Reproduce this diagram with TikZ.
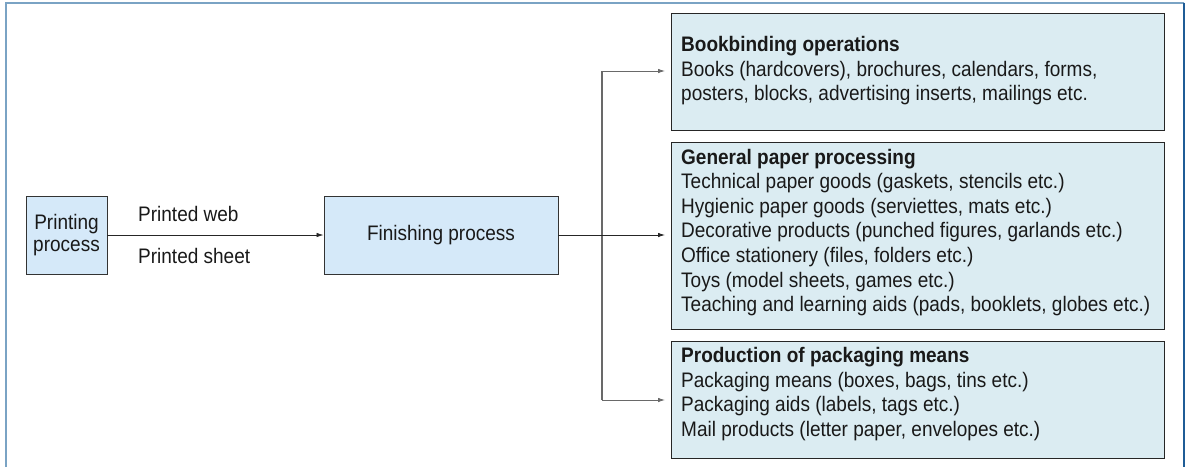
\documentclass[tikz,border=0pt]{standalone}
\usepackage{fontspec}
\setmainfont{Liberation Sans}[FakeStretch=0.905]
\usetikzlibrary{arrows.meta,calc}

\definecolor{procfill}{RGB}{213,233,249}
\definecolor{groupfill}{RGB}{219,236,242}
\definecolor{framelight}{RGB}{122,163,196}
\definecolor{framedark}{RGB}{31,92,150}
\definecolor{linkgray}{RGB}{105,105,105}
\definecolor{ink}{RGB}{25,25,25}

\tikzset{
  proc/.style={draw=black!80, fill=procfill, line width=0.9pt, inner sep=0pt,
    align=center, text=ink, font=\fontsize{21}{21.7}\selectfont},
  group/.style={draw=black!85, fill=groupfill, line width=0.9pt, inner sep=0pt,
    minimum width=493pt, anchor=north west},
  grouptext/.style={anchor=west, inner sep=0pt, align=left, text=ink,
    font=\fontsize{21}{24.6}\selectfont},
  flowlabel/.style={anchor=base west, inner sep=0pt, text=ink},
  flow/.style={line width=0.8pt, draw=black!85, -{Latex[length=7pt,width=4.5pt]}},
  branch/.style={line width=1.3pt, draw=linkgray},
}

\begin{document}
\begin{tikzpicture}[x=1pt, y=-1pt, font=\fontsize{21}{22}\selectfont]
  \useasboundingbox (0,0) rectangle (1187,467);

  % outer frame, open at the bottom
  \draw[framelight, line width=2pt] (5.5,467) -- (5.5,2.5) -- (1183.5,2.5);
  \draw[framedark, line width=2pt] (1183.5,2.5) -- (1183.5,467);

  % process chain
  \node[proc, minimum width=81pt, minimum height=78pt] (print) at (66.5,235) {Printing\\process};
  \node[proc, minimum width=234pt, minimum height=78pt] (finish) at (441,235) {Finishing process};

  \node[flowlabel] (web) at (138,221) {Printed web};
  \node[flowlabel] (sheet) at (138,263) {Printed sheet};

  % product groups, each list set left and roughly centred in its box
  \node[group, minimum height=117pt] (bind) at (671,13) {};
  \node[group, minimum height=187pt] (paper) at (671,142) {};
  \node[group, minimum height=117pt] (pack) at (671,341) {};

  \node[grouptext] (bindtxt) at ($(bind.west)+(10,-1)$) {\textbf{Bookbinding operations}\\
    Books (hardcovers), brochures, calendars, forms,\\
    posters, blocks, advertising inserts, mailings etc.};
  \node[grouptext] (papertxt) at ($(paper.west)+(10,-3.5)$) {\textbf{General paper processing}\\
    Technical paper goods (gaskets, stencils etc.)\\
    Hygienic paper goods (serviettes, mats etc.)\\
    Decorative products (punched figures, garlands etc.)\\
    Office stationery (files, folders etc.)\\
    Toys (model sheets, games etc.)\\
    Teaching and learning aids (pads, booklets, globes etc.)};
  \node[grouptext] (packtxt) at ($(pack.west)+(10,-6)$) {\textbf{Production of packaging means}\\
    Packaging means (boxes, bags, tins etc.)\\
    Packaging aids (labels, tags etc.)\\
    Mail products (letter paper, envelopes etc.)};

  % connectors
  \coordinate (split) at (602,235);
  \coordinate (upper) at (602,71);
  \coordinate (lower) at (602,400);

  \draw[flow] (print) -- (finish);
  \draw[branch] (upper) -- (lower);
  \draw[flow, shorten >=6pt] (finish.east) -- (split -| paper.west);
  \draw[flow, draw=linkgray, shorten >=6pt] (upper) -- (upper -| bind.west);
  \draw[flow, draw=linkgray, shorten >=6pt] (lower) -- (lower -| pack.west);
\end{tikzpicture}
\end{document}
